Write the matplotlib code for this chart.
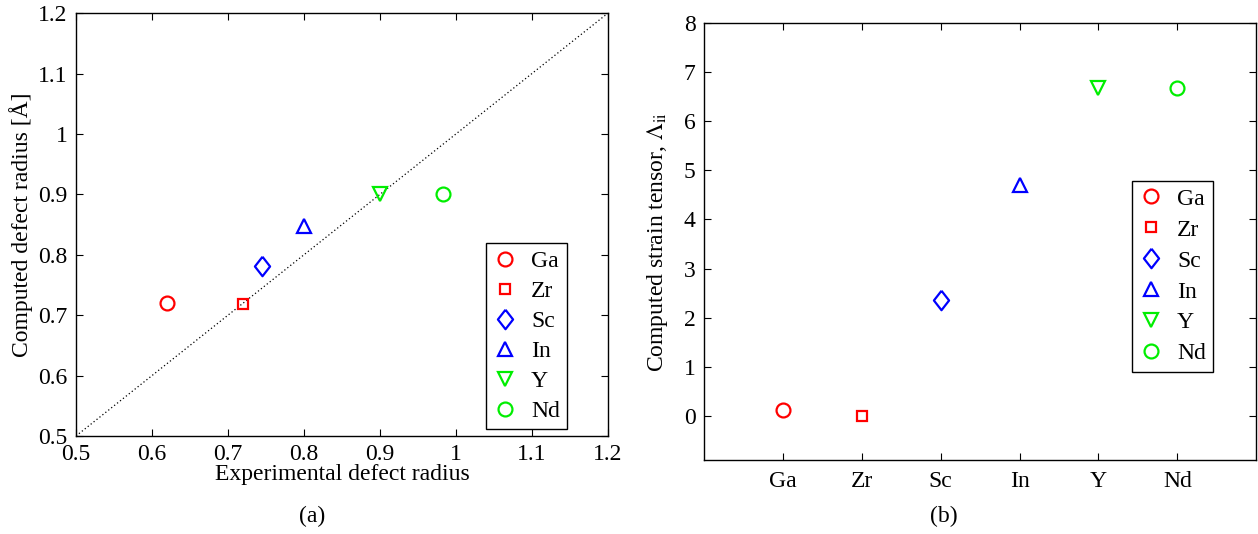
import numpy as np
import matplotlib
matplotlib.use("Agg")
import matplotlib.pyplot as plt

plt.rcParams['font.family'] = ['Liberation Serif', 'DejaVu Serif']
plt.rcParams['mathtext.fontset'] = 'stix'

# dopants, marker styles and colours
elements = ['Ga', 'Zr', 'Sc', 'In', 'Y', 'Nd']
diamond = [(0, 1), (0.78, 0), (0, -1), (-0.78, 0), (0, 1)]
markers = ['o', 's', diamond, '^', 'v', 'o']
colors = ['#ff0000', '#ff0000', '#0000ff', '#0000ff', '#00ee00', '#00ee00']
msizes = [10, 7, 14, 10.5, 10.5, 10]

# (a) experimental vs computed defect radius
exp_radius = [0.62, 0.72, 0.745, 0.80, 0.90, 0.983]
comp_radius = [0.72, 0.718, 0.782, 0.847, 0.900, 0.901]

# (b) computed strain tensor per dopant
strain = [0.11, 0.0, 2.35, 4.70, 6.68, 6.68]

FS = 17
W, H = 1258, 534

fig = plt.figure(figsize=(W / 100, H / 100), dpi=100)
ax1 = fig.add_axes([0.0604, 0.1835, 0.4229, 0.792])
ax2 = fig.add_axes([0.5596, 0.1386, 0.4390, 0.818])

legend_kw = dict(numpoints=1, fontsize=FS, fancybox=False, edgecolor='black',
                 framealpha=1, handlelength=1.0, handletextpad=0.6,
                 borderpad=0.3, borderaxespad=0, bbox_transform=fig.transFigure)

ax1.plot([0.5, 1.2], [0.5, 1.2], ls=(0, (1, 2)), color='black', lw=0.9)
for i, el in enumerate(elements):
    ax1.plot(exp_radius[i], comp_radius[i], ls='none', marker=markers[i],
             mfc='none', mec=colors[i], mew=1.6, ms=msizes[i], label=el)
ax1.set_xlim(0.5, 1.2)
ax1.set_ylim(0.5, 1.2)
ax1.set_xticks(np.arange(0.5, 1.21, 0.1))
ax1.set_yticks(np.arange(0.5, 1.21, 0.1))
ax1.set_xticklabels(['0.5', '0.6', '0.7', '0.8', '0.9', '1', '1.1', '1.2'])
ax1.set_yticklabels(['0.5', '0.6', '0.7', '0.8', '0.9', '1', '1.1', '1.2'])
ax1.set_xlabel('Experimental defect radius', fontsize=FS, labelpad=-1)
ax1.set_ylabel('Computed defect radius [Å]', fontsize=FS, labelpad=4)
leg1 = ax1.legend(loc='lower right', bbox_to_anchor=(567 / W, 1 - 429 / H),
                  labelspacing=0.36, **legend_kw)
leg1.get_frame().set_linewidth(1.0)

xpos = np.arange(1, len(elements) + 1)
for i, el in enumerate(elements):
    ax2.plot(xpos[i], strain[i], ls='none', marker=markers[i],
             mfc='none', mec=colors[i], mew=1.6, ms=msizes[i], label=el)
ax2.set_xlim(0, 7)
ax2.set_ylim(-0.9, 8)
ax2.set_xticks(xpos)
ax2.set_xticklabels(elements)
ax2.set_yticks(range(0, 9))
ax2.set_ylabel(r'Computed strain tensor, $\Lambda_{\rm ii}$', fontsize=FS, labelpad=10)
leg2 = ax2.legend(loc='upper right', bbox_to_anchor=(1213 / W, 1 - 181 / H),
                  labelspacing=0.4, **legend_kw)
leg2.get_frame().set_linewidth(1.0)

for ax in (ax1, ax2):
    ax.tick_params(direction='in', top=True, right=True, labelsize=FS,
                   length=5, width=0.8, pad=6)
    for sp in ax.spines.values():
        sp.set_linewidth(1.0)
ax2.tick_params(axis='x', pad=8)

fig.text(0.248, 0.022, '(a)', ha='center', fontsize=FS)
fig.text(0.750, 0.022, '(b)', ha='center', fontsize=FS)

fig.savefig('out.png', dpi=100)
